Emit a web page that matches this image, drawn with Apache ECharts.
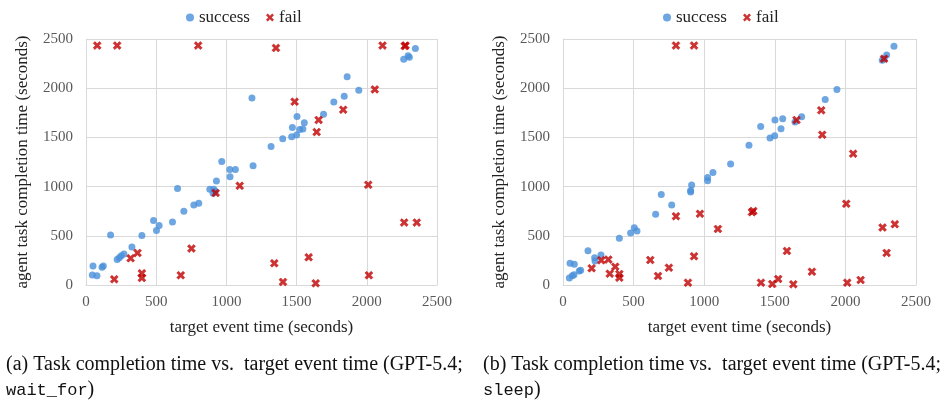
<!DOCTYPE html>
<html><head><meta charset="utf-8">
<script src="https://cdn.jsdelivr.net/npm/echarts@6/dist/echarts.min.js"></script>
<style>html,body{margin:0;padding:0;background:#fff}#c{width:947px;height:408px}</style>
</head><body><div id="c"></div>
<script>
// ---- data: [target event time, agent task completion time] ----
const aSuccess = [[50,193],[45,102],[78,95],[114,180],[123,193],[175,509],[222,258],[237,278],[251,298],[270,316],[327,387],[398,502],[481,655],[502,553],[521,604],[616,641],[652,980],[697,750],[768,814],[803,832],[882,974],[910,974],[905,933],[919,954],[929,1056],[967,1255],[1026,1099],[1024,1174],[1064,1174],[1190,1211],[1182,1901],[1318,1408],[1401,1486],[1465,1507],[1500,1524],[1470,1601],[1503,1713],[1522,1581],[1545,1585],[1555,1649],[1692,1734],[1765,1860],[1839,1917],[1860,2117],[1943,1978],[2263,2294],[2294,2331],[2303,2314],[2346,2403]];
const aFail = [[80,2433],[222,2433],[799,2433],[1353,2409],[2112,2433],[2276,2433],[2270,2428],[1486,1863],[2057,1988],[1832,1781],[1657,1677],[1643,1554],[924,936],[1095,1008],[751,370],[367,326],[318,272],[398,119],[398,72],[201,58],[675,99],[2010,1018],[2266,634],[2356,634],[1341,221],[1403,31],[1586,282],[1636,17],[2015,99]];
const bSuccess = [[45,71],[66,95],[78,105],[50,221],[80,211],[115,142],[125,150],[177,349],[224,278],[227,244],[269,305],[399,475],[479,529],[505,583],[524,550],[656,720],[696,920],[770,812],[904,944],[904,960],[911,1015],[1024,1093],[1024,1059],[1062,1144],[1187,1229],[1317,1419],[1400,1612],[1466,1494],[1499,1517],[1501,1677],[1556,1690],[1544,1589],[1643,1656],[1690,1710],[1857,1886],[1940,1988],[2261,2283],[2292,2338],[2344,2426],[2274,2299]];
const bFail = [[800,2433],[928,2433],[2274,2299],[1654,1677],[1829,1775],[1836,1527],[2055,1334],[800,699],[970,723],[1097,570],[928,292],[618,254],[750,176],[673,92],[885,24],[203,170],[271,251],[321,258],[331,115],[370,186],[399,112],[399,74],[1338,740],[1348,752],[2006,825],[2263,584],[2350,618],[2292,326],[1586,346],[1763,135],[1402,24],[1482,10],[1524,61],[1631,7],[2013,24],[2108,51]];
const xTitle = 'target event time (seconds)';
const yTitle = 'agent task completion time (seconds)';
const seriesNames = ['success','fail'];
const captionA = ['(a) Task completion time vs.  target event time (GPT-5.4;', 'wait_for'];
const captionB = ['(b) Task completion time vs.  target event time (GPT-5.4;', 'sleep'];

const SERIF = '"Liberation Serif", "Times New Roman", serif';
const BLUE = '#4A90DB';
const RED = '#C00000';
const XSYM = 'path://M2.2,0 L5,2.8 L7.8,0 L10,2.2 L7.2,5 L10,7.8 L7.8,10 L5,7.2 L2.2,10 L0,7.8 L2.8,5 L0,2.2 Z';

function xAxis(gi){return {gridIndex:gi,type:'value',min:0,max:2500,interval:500,
  name:xTitle,nameLocation:'middle',nameGap:34,nameTextStyle:{fontFamily:SERIF,fontSize:17,color:'#222'},
  axisLine:{show:true,lineStyle:{color:'#d9d9d9'}},axisTick:{show:false},
  axisLabel:{fontFamily:SERIF,fontSize:15,color:'#595959',margin:10,formatter:v=>String(v)},
  splitLine:{show:true,lineStyle:{color:'#d9d9d9'}}};}
function yAxis(gi){return {gridIndex:gi,type:'value',min:0,max:2500,interval:500,
  name:yTitle,nameLocation:'middle',nameGap:55,nameTextStyle:{fontFamily:SERIF,fontSize:17,color:'#222'},
  axisLine:{show:true,lineStyle:{color:'#d9d9d9'}},axisTick:{show:false},
  axisLabel:{fontFamily:SERIF,fontSize:15,color:'#595959',margin:13,formatter:v=>String(v)},
  splitLine:{show:true,lineStyle:{color:'#d9d9d9'}}};}
function sc(name,data,gi){
  const ok = name==='success';
  return {name:name,type:'scatter',xAxisIndex:gi,yAxisIndex:gi,data:data,
    symbol: ok?'circle':XSYM, symbolSize: ok?7:8,
    itemStyle: ok?{color:BLUE}:{color:RED,borderColor:RED,borderWidth:0.6},emphasis:{disabled:true},z: ok?2:3};
}
function legend(left){return {left:left,top:4,itemGap:16,itemWidth:8,itemHeight:8,
  data:[{name:seriesNames[0],icon:'circle',itemStyle:{borderWidth:0}},{name:seriesNames[1],icon:XSYM,itemStyle:{borderWidth:0}}],
  textStyle:{fontFamily:SERIF,fontSize:17,color:'#222',padding:[0,0,0,0]}};}
function caption(left,lines){return [
  {type:'text',left:left,top:355,style:{text:lines[0],font:'20px '+SERIF,fill:'#111'}},
  {type:'text',left:left,top:380,style:{text:'{m|'+lines[1]+'}{s|)}',font:'20px '+SERIF,fill:'#111',
    rich:{m:{fontFamily:'"Liberation Mono", monospace',fontSize:17,fill:'#111'},s:{fontFamily:SERIF,fontSize:20,fill:'#111'}}}}
];}

const chart = echarts.init(document.getElementById('c'),null,{renderer:'canvas'});
chart.setOption({
  animation:false,
  legend:[legend(181),legend(658)],
  grid:[{left:86,top:39,width:351,height:246},{left:563,top:39,width:353,height:246}],
  xAxis:[xAxis(0),xAxis(1)],
  yAxis:[yAxis(0),yAxis(1)],
  series:[sc('success',aSuccess,0),sc('fail',aFail,0),sc('success',bSuccess,1),sc('fail',bFail,1)],
  graphic:[...caption(6,captionA),...caption(483,captionB)]
});
</script></body></html>
